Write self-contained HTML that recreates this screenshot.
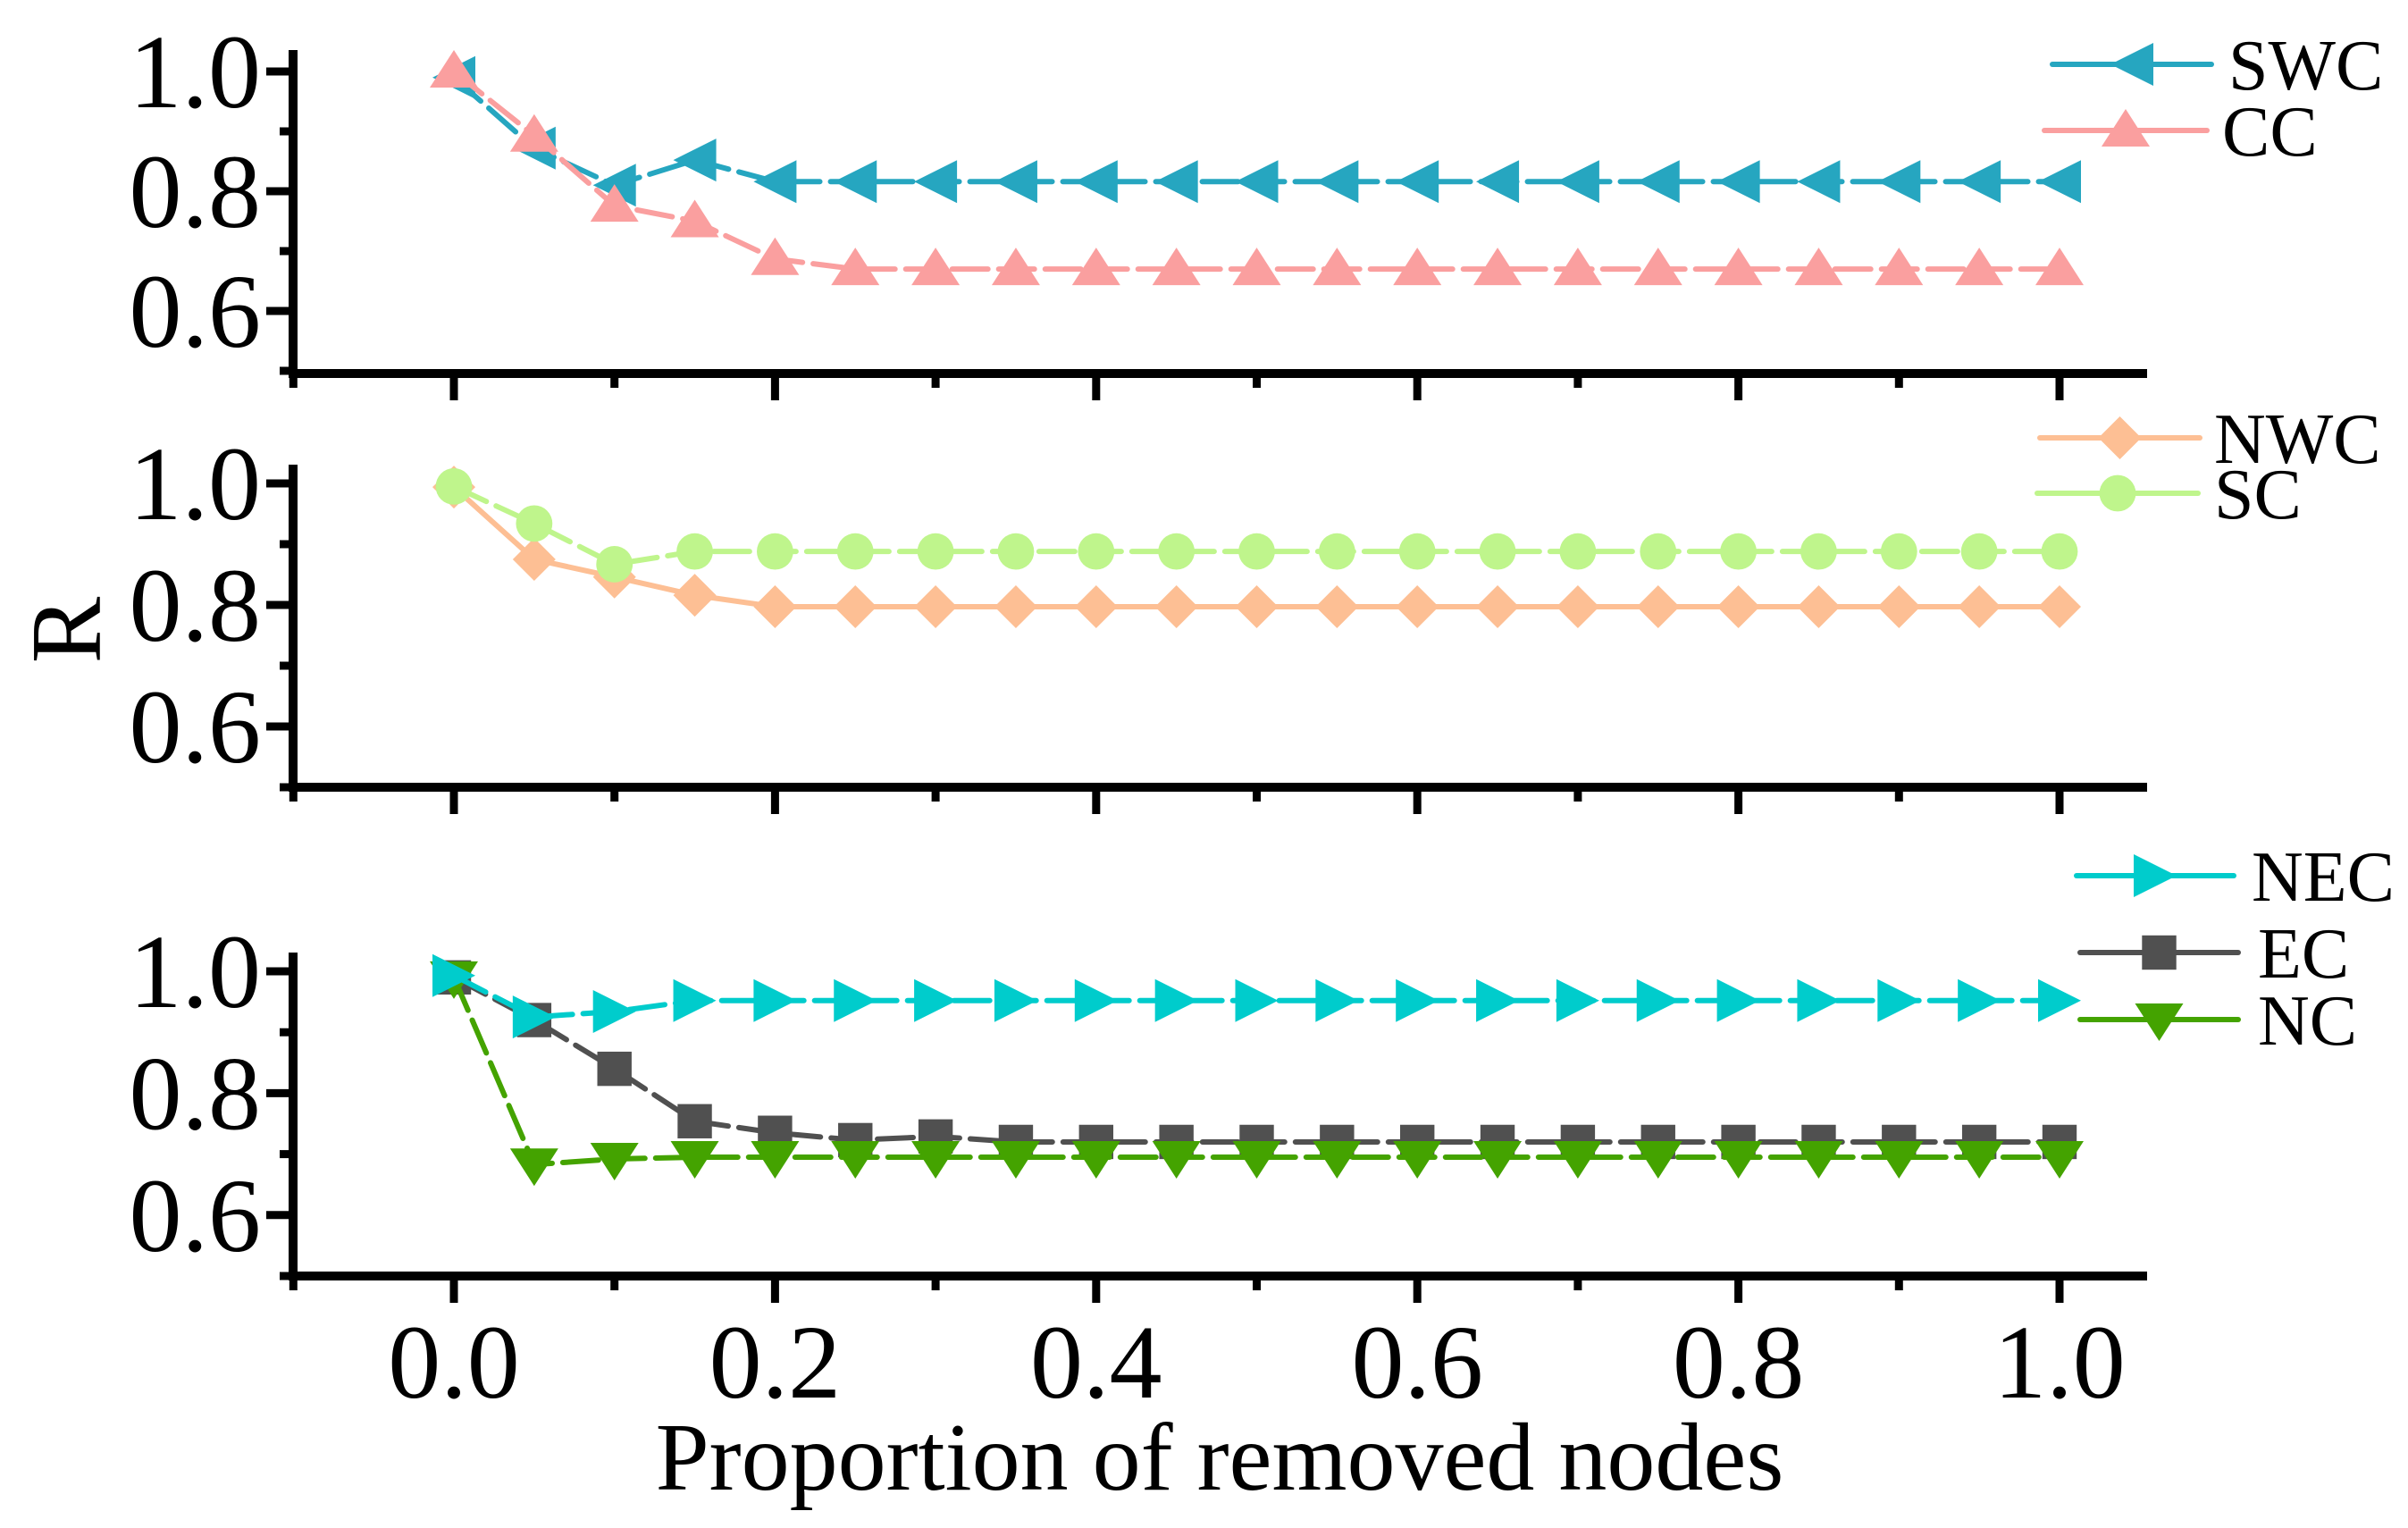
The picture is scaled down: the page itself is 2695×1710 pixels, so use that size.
<!DOCTYPE html>
<html><head><meta charset="utf-8"><style>
html,body{margin:0;padding:0;background:#fff}
svg{display:block}
text{font-family:"Liberation Serif",serif;fill:#000}
</style></head><body>
<svg id="chart" width="2695" height="1710" viewBox="0 0 2695 1710" xmlns="http://www.w3.org/2000/svg">
<g id="axes"></g><g id="series"></g><g id="legend"></g>
<text x="1365" y="1667" font-size="108" text-anchor="middle">Proportion of removed nodes</text>
<text x="0" y="0" font-size="112" text-anchor="middle" transform="translate(112,705) rotate(-90)">R</text>
</svg>
<script>
const xValues=[0,0.05,0.1,0.15,0.2,0.25,0.3,0.35,0.4,0.45,0.5,0.55,0.6,0.65,0.7,0.75,0.8,0.85,0.9,0.95,1.0];
const swc=[0.99,0.872,0.81,0.852,0.816,0.816,0.816,0.816,0.816,0.816,0.816,0.816,0.816,0.816,0.816,0.816,0.816,0.816,0.816,0.816,0.816];
const cc=[1.0,0.893,0.776,0.75,0.687,0.67,0.67,0.67,0.67,0.67,0.67,0.67,0.67,0.67,0.67,0.67,0.67,0.67,0.67,0.67,0.67];
const nwc=[0.994,0.875,0.846,0.816,0.797,0.797,0.797,0.797,0.797,0.797,0.797,0.797,0.797,0.797,0.797,0.797,0.797,0.797,0.797,0.797,0.797];
const sc=[0.995,0.934,0.867,0.888,0.888,0.888,0.888,0.888,0.888,0.888,0.888,0.888,0.888,0.888,0.888,0.888,0.888,0.888,0.888,0.888,0.888];
const nec=[0.993,0.925,0.934,0.952,0.952,0.952,0.952,0.952,0.952,0.952,0.952,0.952,0.952,0.952,0.952,0.952,0.952,0.952,0.952,0.952,0.952];
const ec=[0.99,0.92,0.84,0.754,0.735,0.723,0.729,0.72,0.72,0.72,0.72,0.72,0.72,0.72,0.72,0.72,0.72,0.72,0.72,0.72,0.72];
const nc=[0.99,0.683,0.692,0.695,0.695,0.695,0.695,0.695,0.695,0.695,0.695,0.695,0.695,0.695,0.695,0.695,0.695,0.695,0.695,0.695,0.695];
const yTickLabels=["1.0","0.8","0.6"];
const yTickValues=[1.0,0.8,0.6];
const yMinorValues=[0.9,0.7,0.5];
const xTickLabels=["0.0","0.2","0.4","0.6","0.8","1.0"];
const xTickValues=[0,0.2,0.4,0.6,0.8,1.0];
const xMinorValues=[-0.1,0.1,0.3,0.5,0.7,0.9];

const NS="http://www.w3.org/2000/svg";
function mk(tag,attrs,parent){const e=document.createElementNS(NS,tag);for(const k in attrs)e.setAttribute(k,attrs[k]);parent.appendChild(e);return e;}
function xs(v){return 508+v*1797;}
const panels=[{y1:80,k:670,axisY:418,top:56,name:'top'},{y1:541,k:680,axisY:881,top:520,name:'middle'},{y1:1087,k:682,axisY:1428,top:1066,name:'bottom'}];
function ys(p,v){return p.y1+(1-v)*p.k;}
const axes=document.getElementById('axes');
panels.forEach(p=>{
  const g=mk('g',{},axes);
  
  
  const ya=mk('line',{x1:328,x2:328,y1:p.top,y2:p.axisY+5,stroke:'#000','stroke-width':10},g);
  
  
  const xa=mk('line',{x1:323,x2:2403,y1:p.axisY,y2:p.axisY,stroke:'#000','stroke-width':10},g);
  
  
  yTickValues.forEach((v,i)=>{
    const y=ys(p,v);
    mk('line',{x1:298,x2:328,y1:y,y2:y,stroke:'#000','stroke-width':9},g);
    const t=mk('text',{x:292,y:y+40,'font-size':118,'text-anchor':'end'},g);
    t.textContent=yTickLabels[i];
    
    
  });
  yMinorValues.forEach(v=>{const y=ys(p,v);mk('line',{x1:313,x2:328,y1:y,y2:y,stroke:'#000','stroke-width':9},g);});
  xTickValues.forEach(v=>{mk('line',{x1:xs(v),x2:xs(v),y1:p.axisY,y2:p.axisY+30,stroke:'#000','stroke-width':9},g);});
  xMinorValues.forEach(v=>{mk('line',{x1:xs(v),x2:xs(v),y1:p.axisY,y2:p.axisY+16,stroke:'#000','stroke-width':9},g);});
});
xTickLabels.forEach((l,i)=>{
  const t=mk('text',{x:xs(xTickValues[i]),y:1564,'font-size':118,'text-anchor':'middle'},axes);
  t.textContent=l;
  
  
});

function marker(shape,cx,cy,color,parent){
  const s=24;
  let e;
  if(shape==='left')e=mk('polygon',{points:`${cx-s},${cy} ${cx+s},${cy-s} ${cx+s},${cy+s}`,fill:color},parent);
  else if(shape==='right')e=mk('polygon',{points:`${cx+s},${cy} ${cx-s},${cy-s} ${cx-s},${cy+s}`,fill:color},parent);
  else if(shape==='up')e=mk('polygon',{points:`${cx},${cy-s} ${cx-s-3},${cy+s*0.75} ${cx+s+3},${cy+s*0.75}`,fill:color},parent);
  else if(shape==='down')e=mk('polygon',{points:`${cx},${cy+s} ${cx-s-3},${cy-s*0.75} ${cx+s+3},${cy-s*0.75}`,fill:color},parent);
  else if(shape==='diamond')e=mk('polygon',{points:`${cx},${cy-s} ${cx+s},${cy} ${cx},${cy+s} ${cx-s},${cy}`,fill:color},parent);
  else if(shape==='circle')e=mk('circle',{cx:cx,cy:cy,r:s*0.85,fill:color},parent);
  else e=mk('rect',{x:cx-s*0.8,y:cy-s*0.8,width:s*1.6,height:s*1.6,fill:color},parent);
  return e;
}
const seriesDefs=[
  {name:'SWC',data:swc,p:0,color:'#26a6c0',shape:'left',dash:'40,12'},
  {name:'CC',data:cc,p:0,color:'#fa9f9f',shape:'up',dash:'40,12'},
  {name:'NWC',data:nwc,p:1,color:'#fdbf94',shape:'diamond',dash:''},
  {name:'SC',data:sc,p:1,color:'#bff58c',shape:'circle',dash:'40,12'},
  {name:'EC',data:ec,p:2,color:'#505050',shape:'square',dash:'40,12'},
  {name:'NC',data:nc,p:2,color:'#44a300',shape:'down',dash:'40,12'},
  {name:'NEC',data:nec,p:2,color:'#00cccc',shape:'right',dash:'40,12'}
];
const sg=document.getElementById('series');
seriesDefs.forEach(s=>{
  const p=panels[s.p];
  const g=mk('g',{},sg);
  
  
  const pts=s.data.map((v,i)=>xs(xValues[i])+','+ys(p,v)).join(' ');
  const pl=mk('polyline',{points:pts,fill:'none',stroke:s.color,'stroke-width':6,'stroke-linecap':'round'},g);
  if(s.dash)pl.setAttribute('stroke-dasharray',s.dash);
  
  
  s.data.forEach((v,i)=>{
    const m=marker(s.shape,xs(xValues[i]),ys(p,v),s.color,g);
    
    
  });
});
const legendItems=[
  {name:'SWC',color:'#26a6c0',shape:'left',x1:2297,x2:2475,y:72,tx:2494},
  {name:'CC',color:'#fa9f9f',shape:'up',x1:2288,x2:2470,y:146,tx:2487},
  {name:'NWC',color:'#fdbf94',shape:'diamond',x1:2283,x2:2462,y:490,tx:2478},
  {name:'SC',color:'#bff58c',shape:'circle',x1:2280,x2:2460,y:552,tx:2478},
  {name:'NEC',color:'#00cccc',shape:'right',x1:2324,x2:2500,y:980,tx:2520},
  {name:'EC',color:'#505050',shape:'square',x1:2328,x2:2505,y:1066,tx:2527},
  {name:'NC',color:'#44a300',shape:'down',x1:2328,x2:2505,y:1141,tx:2527}
];
const lg=document.getElementById('legend');
legendItems.forEach(l=>{
  const g=mk('g',{},lg);
  
  
  mk('line',{x1:l.x1,x2:l.x2,y1:l.y,y2:l.y,stroke:l.color,'stroke-width':6,'stroke-linecap':'round'},g);
  marker(l.shape,(l.x1+l.x2)/2,l.y,l.color,g);
  const t=mk('text',{x:l.tx,y:l.y+28,'font-size':80},g);
  t.textContent=l.name;
});
</script>
</body></html>
